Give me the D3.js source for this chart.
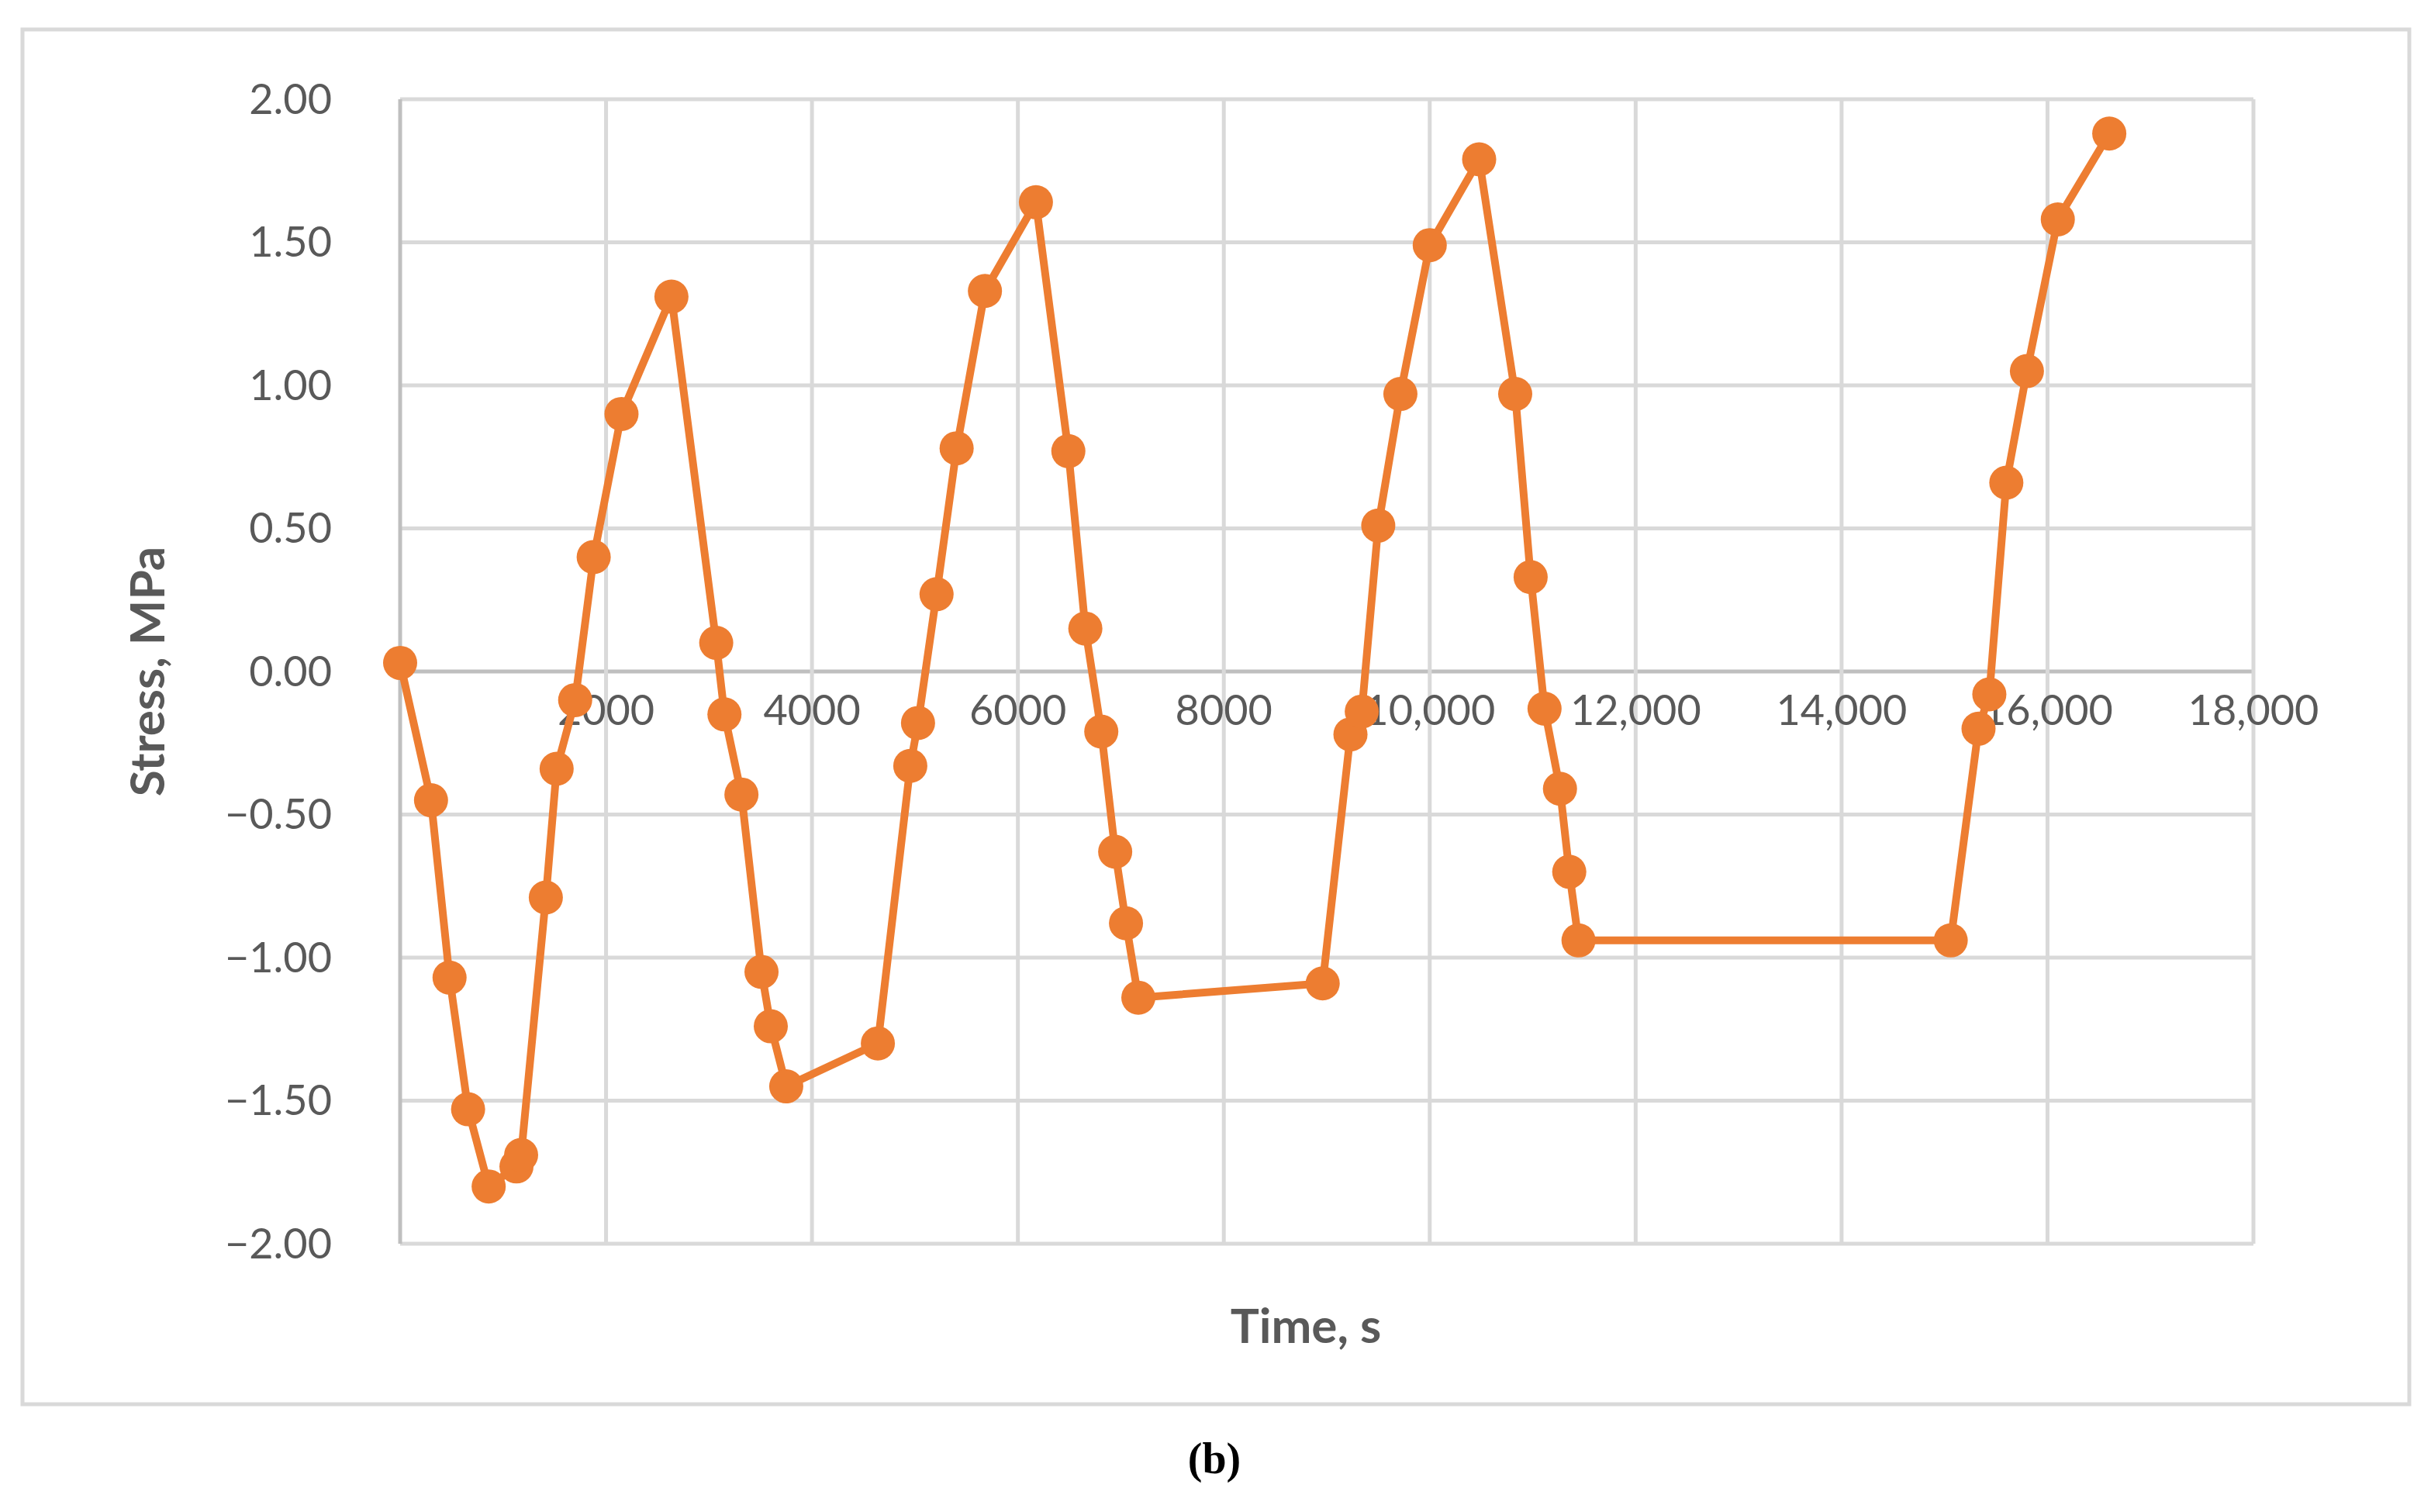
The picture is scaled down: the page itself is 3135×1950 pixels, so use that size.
<!DOCTYPE html>
<html><head><meta charset="utf-8">
<script src="https://cdn.jsdelivr.net/npm/d3@7"></script>
<style>body{margin:0;background:#fff}</style></head>
<body><svg id="c" width="3135" height="1950"></svg>
<script>
const times = [0,300,480,660,860,1130,1175,1415,1520,1700,1880,2150,2635,3070,3150,3315,3510,3600,3750,4640,4955,5030,5210,5405,5680,6175,6490,6655,6810,6945,7050,7170,8960,9230,9340,9500,9715,10000,10480,10830,10980,11115,11265,11355,11445,15060,15330,15435,15600,15800,16100,16600];
const stress = [0.03,-0.45,-1.07,-1.53,-1.80,-1.73,-1.69,-0.79,-0.34,-0.10,0.40,0.90,1.31,0.10,-0.15,-0.43,-1.05,-1.24,-1.45,-1.30,-0.33,-0.18,0.27,0.78,1.33,1.64,0.77,0.15,-0.21,-0.63,-0.88,-1.14,-1.09,-0.22,-0.14,0.51,0.97,1.49,1.79,0.97,0.33,-0.13,-0.41,-0.70,-0.94,-0.94,-0.20,-0.08,0.66,1.05,1.58,1.88];
const xTicks = [2000,4000,6000,8000,10000,12000,14000,16000,18000];
const yTicks = [-2,-1.5,-1,-0.5,0,0.5,1,1.5,2];

const svg = d3.select('#c');
const L=516,R=2906,T=128,B=1604;
const x = d3.scaleLinear().domain([0,18000]).range([L,R]);
const y = d3.scaleLinear().domain([-2,2]).range([B,T]);
const font = "Lato, 'Open Sans', sans-serif";
const grey = '#595959';

svg.append('rect').attr('x',29).attr('y',38).attr('width',3078).attr('height',1773)
  .attr('fill','none').attr('stroke','#d9d9d9').attr('stroke-width',5);

// grid
svg.append('g').selectAll('line').data(yTicks).join('line')
  .attr('x1',L).attr('x2',R).attr('y1',d=>y(d)).attr('y2',d=>y(d))
  .attr('stroke',d=>d===0?'#bfbfbf':'#d9d9d9').attr('stroke-width',5);
svg.append('g').selectAll('line').data([0].concat(xTicks)).join('line')
  .attr('y1',T).attr('y2',B).attr('x1',d=>x(d)).attr('x2',d=>x(d))
  .attr('stroke',d=>d===0?'#bfbfbf':'#d9d9d9').attr('stroke-width',5);

const fmtY = d => (d<0?'\u2212':'') + Math.abs(d).toFixed(2);
svg.append('g').selectAll('text').data(yTicks).join('text')
  .attr('x',428).attr('y',d=>y(d)).attr('dy','0.35em').attr('text-anchor','end')
  .attr('font-family',font).attr('font-size',54).attr('fill',grey).text(fmtY);
const fmtX = d => d>=10000 ? d3.format(',')(d) : String(d);
svg.append('g').selectAll('text').data(xTicks).join('text')
  .attr('x',d=>x(d)).attr('y',y(0)+50).attr('dy','0.35em').attr('text-anchor','middle')
  .attr('font-family',font).attr('font-size',54).attr('fill',grey).text(fmtX);

const pts = times.map((t,i)=>[t,stress[i]]);
svg.append('path').datum(pts)
  .attr('d',d3.line().x(d=>x(d[0])).y(d=>y(d[1])))
  .attr('fill','none').attr('stroke','#ED7D31').attr('stroke-width',10).attr('stroke-linejoin','round');
svg.append('g').selectAll('circle').data(pts).join('circle')
  .attr('cx',d=>x(d[0])).attr('cy',d=>y(d[1])).attr('r',22).attr('fill','#ED7D31');

svg.append('text').attr('x',1684).attr('y',1710).attr('dy','0.35em').attr('text-anchor','middle')
  .attr('font-family',font).attr('font-weight','bold').attr('font-size',62).attr('fill',grey).text('Time, s');
svg.append('text').attr('transform','translate(190,866) rotate(-90)').attr('dy','0.35em').attr('text-anchor','middle')
  .attr('font-family',font).attr('font-weight','bold').attr('font-size',62).attr('fill',grey).text('Stress, MPa');
svg.append('text').attr('x',1566).attr('y',1880).attr('dy','0.35em').attr('text-anchor','middle')
  .attr('font-family',"'Liberation Serif', serif").attr('font-weight','bold').attr('font-size',56).attr('fill','#000').text('(b)');
</script></body></html>
